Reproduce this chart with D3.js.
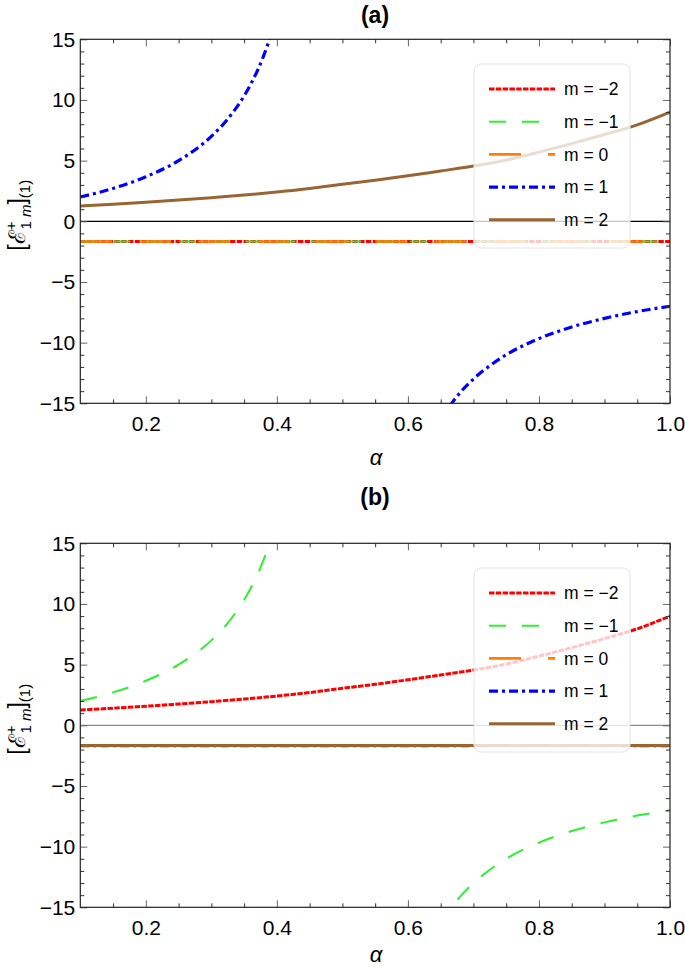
<!DOCTYPE html>
<html>
<head>
<meta charset="utf-8">
<script src="https://cdn.jsdelivr.net/npm/d3@7"></script>
<style>
  html, body { margin: 0; padding: 0; background: #fff; }
  svg { display: block; font-family: "Liberation Sans", Arial, sans-serif; }
</style>
</head>
<body>
<svg id="chart" width="685" height="968"></svg>
<script>
// ---------------- data ----------------
const mLabels = ["m = \u22122", "m = \u22121", "m = 0", "m = 1", "m = 2"];

// rising curve (brown in (a), red in (b))
const risingAlpha = [0.1, 0.15, 0.2, 0.25, 0.3, 0.35, 0.4, 0.45, 0.5, 0.55, 0.6, 0.65, 0.7, 0.75, 0.8, 0.85, 0.9, 0.95, 1.0];
const risingValues = [1.26, 1.41, 1.57, 1.75, 1.95, 2.16, 2.41, 2.7, 3.05, 3.38, 3.75, 4.15, 4.55, 5.05, 5.7, 6.4, 7.15, 7.95, 9.0];

// curve with a pole (blue in (a), green in (b)) – upper and lower branches
const poleUpperAlpha = [0.1, 0.15, 0.2, 0.25, 0.3, 0.325, 0.35, 0.36, 0.37, 0.38, 0.39, 0.4];
const poleUpperValues = [2.0, 2.71, 3.67, 5.0, 7.0, 8.43, 10.33, 11.29, 12.38, 13.67, 15.2, 17.0];
const poleLowerAlpha = [0.65, 0.667, 0.68, 0.7, 0.725, 0.75, 0.8, 0.85, 0.9, 0.95, 1.0];
const poleLowerValues = [-16.7, -15.0, -14.1, -13.0, -11.9, -11.0, -9.67, -8.71, -8.0, -7.44, -7.0];

// constant curve
const flatAlpha = [0.1, 1.0];
const flatValues = [-1.67, -1.67];

// axis ticks
const xMajorTicks = [0.2, 0.4, 0.6, 0.8, 1.0];
const xMinorTicks = [0.15, 0.25, 0.3, 0.35, 0.45, 0.5, 0.55, 0.65, 0.7, 0.75, 0.85, 0.9, 0.95];
const yMajorTicks = [-15, -10, -5, 0, 5, 10, 15];
const yMinorTicks = [-14, -13, -12, -11, -9, -8, -7, -6, -4, -3, -2, -1, 1, 2, 3, 4, 6, 7, 8, 9, 11, 12, 13, 14];

// which curve each m uses in each panel
const panelACurves = ["flat", "flat", "flat", "pole", "rising"];
const panelBCurves = ["rising", "pole", "flat", "flat", "flat"];

// ---------------- styles ----------------
const seriesStyle = [
  { color: "#ff0000", width: 3.0, dash: "5.5,1.3" },
  { color: "#2ff02f", width: 2.0, dash: "17,16" },
  { color: "#ff8000", width: 2.6, dash: "32,27" },
  { color: "#0000ff", width: 3.2, dash: "9,4,3,4" },
  { color: "#996633", width: 3.0, dash: null }
];

const svg = d3.select("#chart");
const left = 80.3, right = 670, plotH = 364;

const panels = [
  { top: 39.3, title: "(a)", titleY: 23, zeroColor: "#000", zeroWidth: 1.3, curves: panelACurves, tickLabelY: 431.5, alphaY: 465 },
  { top: 543.3, title: "(b)", titleY: 505, zeroColor: "#8a8a8a", zeroWidth: 1.3, curves: panelBCurves, tickLabelY: 935.5, alphaY: 962 }
];

function curveData(kind) {
  if (kind === "rising") return [risingAlpha.map((a, i) => [a, risingValues[i]])];
  if (kind === "flat") return [flatAlpha.map((a, i) => [a, flatValues[i]])];
  return [poleUpperAlpha.map((a, i) => [a, poleUpperValues[i]]),
          poleLowerAlpha.map((a, i) => [a, poleLowerValues[i]])];
}

const x = d3.scaleLinear().domain([0.1, 1.0]).range([left, right]);

panels.forEach((p, pi) => {
  const y = d3.scaleLinear().domain([-15, 15]).range([p.top + plotH, p.top]);
  const g = svg.append("g");

  // title
  g.append("text").attr("x", 375).attr("y", p.titleY)
    .attr("text-anchor", "middle").attr("font-size", 23).attr("font-weight", "bold")
    .text(p.title);

  // clip
  const clipId = "clip" + pi;
  svg.append("clipPath").attr("id", clipId).append("rect")
    .attr("x", left).attr("y", p.top).attr("width", right - left).attr("height", plotH);

  // zero line
  g.append("line").attr("x1", left).attr("x2", right)
    .attr("y1", y(0)).attr("y2", y(0))
    .attr("stroke", p.zeroColor).attr("stroke-width", p.zeroWidth);

  // curves
  const line = d3.line().x(d => x(d[0])).y(d => y(d[1])).curve(d3.curveMonotoneX);
  const cg = g.append("g").attr("clip-path", `url(#${clipId})`);
  p.curves.forEach((kind, mi) => {
    const st = seriesStyle[mi];
    curveData(kind).forEach(seg => {
      cg.append("path").attr("d", line(seg))
        .attr("fill", "none").attr("stroke", st.color)
        .attr("stroke-width", st.width)
        .attr("stroke-dasharray", st.dash)
        .attr("stroke-linecap", "butt");
    });
  });

  // axes (ticks inward)
  const tickStyle = (sel, color) => {
    sel.select(".domain").remove();
    sel.selectAll(".tick line").attr("stroke", color).attr("stroke-width", 1);
    sel.selectAll(".tick text").attr("font-size", 21).attr("fill", "#000")
      .attr("font-family", "'Liberation Sans', Arial, sans-serif");
  };
  // left
  g.append("g").attr("transform", `translate(${left},0)`)
    .call(d3.axisLeft(y).tickValues(yMajorTicks).tickSizeInner(-7).tickSizeOuter(0).tickPadding(5).tickFormat(d3.format("d")))
    .call(s => tickStyle(s, "#666"));
  g.append("g").attr("transform", `translate(${left},0)`)
    .call(d3.axisLeft(y).tickValues(yMinorTicks).tickSizeInner(-4).tickSizeOuter(0).tickFormat(""))
    .call(s => tickStyle(s, "#333"));
  // right
  g.append("g").attr("transform", `translate(${right},0)`)
    .call(d3.axisRight(y).tickValues(yMajorTicks).tickSizeInner(-7).tickSizeOuter(0).tickFormat(""))
    .call(s => tickStyle(s, "#666"));
  g.append("g").attr("transform", `translate(${right},0)`)
    .call(d3.axisRight(y).tickValues(yMinorTicks).tickSizeInner(-4).tickSizeOuter(0).tickFormat(""))
    .call(s => tickStyle(s, "#333"));
  // bottom
  const bottomAx = g.append("g").attr("transform", `translate(0,${p.top + plotH})`)
    .call(d3.axisBottom(x).tickValues(xMajorTicks).tickSizeInner(-7).tickSizeOuter(0).tickPadding(0).tickFormat(d3.format(".1f")))
    .call(s => tickStyle(s, "#666"));
  bottomAx.selectAll(".tick text").attr("dy", null).attr("y", p.tickLabelY - (p.top + plotH));
  g.append("g").attr("transform", `translate(0,${p.top + plotH})`)
    .call(d3.axisBottom(x).tickValues(xMinorTicks).tickSizeInner(-4).tickSizeOuter(0).tickFormat(""))
    .call(s => tickStyle(s, "#333"));
  // top
  g.append("g").attr("transform", `translate(0,${p.top})`)
    .call(d3.axisTop(x).tickValues(xMajorTicks).tickSizeInner(-7).tickSizeOuter(0).tickFormat(""))
    .call(s => tickStyle(s, "#666"));
  g.append("g").attr("transform", `translate(0,${p.top})`)
    .call(d3.axisTop(x).tickValues(xMinorTicks).tickSizeInner(-4).tickSizeOuter(0).tickFormat(""))
    .call(s => tickStyle(s, "#333"));

  // frame
  g.append("rect").attr("x", left).attr("y", p.top).attr("width", right - left).attr("height", plotH)
    .attr("fill", "none").attr("stroke", "#222").attr("stroke-width", 1.2);

  // x label
  g.append("text").attr("x", 376).attr("y", p.alphaY).attr("text-anchor", "middle")
    .attr("font-size", 22).attr("font-style", "italic").text("\u03b1");

  // y label
  const yl = g.append("text")
    .attr("transform", `translate(25,${p.top + 176}) rotate(-90)`)
    .attr("text-anchor", "middle").attr("font-size", 23);
  yl.append("tspan").text("[\u2130");
  yl.append("tspan").attr("font-size", 15).attr("dy", -9).text("+");
  yl.append("tspan").attr("font-size", 15).attr("dx", -8).attr("dy", 15).text("1 ");
  yl.append("tspan").attr("font-size", 15).attr("font-style", "italic").text("m");
  yl.append("tspan").attr("font-size", 23).attr("dy", -6).text("]");
  yl.append("tspan").attr("font-size", 15).attr("dy", 5).text("(1)");

  // legend
  const lg = g.append("g");
  lg.append("rect").attr("x", 474).attr("y", p.top + 24.7).attr("width", 156).attr("height", 184)
    .attr("rx", 7).attr("fill", "#fff").attr("fill-opacity", 0.78)
    .attr("stroke", "#e4e4e4").attr("stroke-width", 1);
  mLabels.forEach((lab, mi) => {
    const st = seriesStyle[mi];
    const ry = p.top + 49.7 + mi * 32.7;
    lg.append("line").attr("x1", 489).attr("x2", 555).attr("y1", ry).attr("y2", ry)
      .attr("stroke", st.color).attr("stroke-width", st.width).attr("stroke-dasharray", st.dash);
    lg.append("text").attr("x", 564).attr("y", ry).attr("dy", "0.36em")
      .attr("font-size", 17.5).text(lab);
  });
});
</script>
</body>
</html>
